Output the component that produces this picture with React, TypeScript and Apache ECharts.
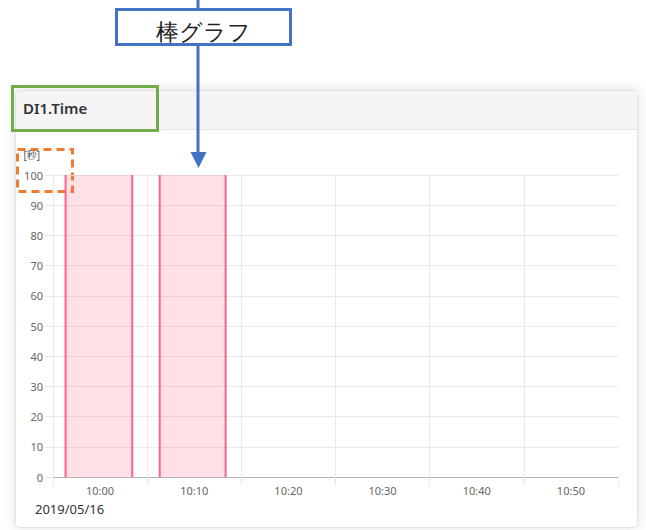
import React, { useEffect, useRef } from "react";
import * as echarts from "echarts";

// ---- data ----
const timeLabels = ["10:00", "10:10", "10:20", "10:30", "10:40", "10:50"];
const rangeStart = "2019-05-16T09:55:00";
const rangeEnd = "2019-05-16T10:55:00";
const barStarts = ["2019-05-16T09:56:20", "2019-05-16T10:06:20"];
const barEnds = ["2019-05-16T10:03:25", "2019-05-16T10:13:20"];
const barValues = [100, 100];
const yMin = 0;
const yMax = 100;
const yStep = 10;
const panelTitle = "DI1.Time";
const dateLabel = "2019/05/16";
const yAxisName = "[秒]";
const calloutText = "棒グラフ";

const ts = (s: string) => new Date(s).getTime();

const FONT = "'Noto Sans', 'Noto Sans CJK JP', sans-serif";
const PINK = "rgb(255,99,132)";
const PINK_FILL = "rgba(255,99,132,0.2)";
const GRID = "#e9e9e9";
const LABEL = "#666666";
const BLUE = "#4472C4";
const GREEN = "#70AD47";
const ORANGE = "#ED7D31";

export default function App() {
  const ref = useRef<HTMLDivElement>(null);

  useEffect(() => {
    if (!ref.current) return;
    const chart = echarts.init(ref.current, null, { renderer: "svg" });

    const barData = barStarts.map((s, i) => [ts(s), ts(barEnds[i]), barValues[i]]);

    const option: any = {
      animation: false,
      backgroundColor: "#ffffff",
      textStyle: { fontFamily: FONT },
      grid: { left: 53, top: 175, width: 565, height: 302, containLabel: false },
      xAxis: [
        {
          type: "category",
          data: timeLabels,
          boundaryGap: true,
          axisLine: { show: true, lineStyle: { color: "#b3b3b3", width: 1 } },
          axisTick: { show: true, length: 8, lineStyle: { color: GRID } },
          axisLabel: { color: LABEL, fontSize: 11, margin: 8, fontFamily: FONT },
          splitLine: { show: true, showMaxLine: false, lineStyle: { color: GRID } },
        },
        {
          type: "time",
          min: ts(rangeStart),
          max: ts(rangeEnd),
          show: false,
          position: "bottom",
          splitLine: { show: false },
        },
      ],
      yAxis: {
        type: "value",
        min: yMin,
        max: yMax,
        interval: yStep,
        name: yAxisName,
        nameLocation: "end",
        nameGap: 20,
        nameTextStyle: {
          color: "#555555",
          fontSize: 10,
          align: "right",
          verticalAlign: "middle",
          padding: [0, 13, 0, 0],
          fontFamily: FONT,
        },
        axisLine: { show: false },
        axisTick: { show: true, length: 8, lineStyle: { color: GRID } },
        axisLabel: { color: LABEL, fontSize: 11, margin: 10, fontFamily: FONT },
        splitLine: { show: true, lineStyle: { color: GRID } },
      },
      series: [
        {
          type: "custom",
          xAxisIndex: 1,
          yAxisIndex: 0,
          data: barData,
          encode: { x: [0, 1], y: 2 },
          renderItem: (params: any, api: any) => {
            const top = api.coord([api.value(0), api.value(2)]);
            const bot = api.coord([api.value(1), 0]);
            const x0 = top[0];
            const x1 = bot[0];
            const y0 = top[1];
            const y1 = bot[1];
            return {
              type: "group",
              children: [
                {
                  type: "rect",
                  shape: { x: x0, y: y0, width: x1 - x0, height: y1 - y0 },
                  style: { fill: PINK_FILL },
                },
                {
                  type: "line",
                  shape: { x1: x0, y1: y0, x2: x0, y2: y1 },
                  style: { stroke: PINK, lineWidth: 2 },
                },
                {
                  type: "line",
                  shape: { x1: x1, y1: y0, x2: x1, y2: y1 },
                  style: { stroke: PINK, lineWidth: 2 },
                },
              ],
            };
          },
        },
      ],
      graphic: [
        // card
        {
          type: "group",
          z: -10,
          silent: true,
          children: [
            {
              type: "rect",
              shape: { x: 15.5, y: 90.5, width: 622, height: 437, r: 4 },
              style: {
                fill: "#ffffff",
                stroke: "#e2e2e2",
                lineWidth: 1,
                shadowBlur: 12,
                shadowColor: "rgba(0,0,0,0.12)",
              },
            },
            {
              type: "rect",
              shape: { x: 16, y: 91, width: 621, height: 38, r: [4, 4, 0, 0] },
              style: { fill: "#f5f5f5" },
            },
            {
              type: "line",
              shape: { x1: 16, y1: 129.5, x2: 637, y2: 129.5 },
              style: { stroke: "#e4e4e4", lineWidth: 1 },
            },
            {
              type: "text",
              x: 23,
              y: 108,
              style: {
                text: panelTitle,
                fontSize: 15,
                fontWeight: 600,
                fill: "#333333",
                fontFamily: FONT,
                verticalAlign: "middle",
                align: "left",
              },
            },
            {
              type: "text",
              x: 35,
              y: 509,
              style: {
                text: dateLabel,
                fontSize: 13,
                fill: "#333333",
                fontFamily: FONT,
                verticalAlign: "middle",
                align: "left",
              },
            },
          ],
        },
        // annotations
        {
          type: "group",
          z: 100,
          silent: true,
          children: [
            {
              type: "line",
              shape: { x1: 198, y1: 0, x2: 198, y2: 9 },
              style: { stroke: BLUE, lineWidth: 3 },
            },
            {
              type: "rect",
              shape: { x: 116.5, y: 9.5, width: 174, height: 35 },
              style: { fill: "#ffffff", stroke: BLUE, lineWidth: 3 },
            },
            {
              type: "text",
              x: 203,
              y: 32,
              style: {
                text: calloutText,
                fontSize: 23,
                fill: "#222222",
                fontFamily: "serif",
                align: "center",
                verticalAlign: "middle",
              },
            },
            {
              type: "line",
              shape: { x1: 198, y1: 45, x2: 198, y2: 154 },
              style: { stroke: BLUE, lineWidth: 3 },
            },
            {
              type: "polygon",
              shape: { points: [[190.5, 152], [206.5, 152], [198.5, 168]] },
              style: { fill: BLUE },
            },
            {
              type: "rect",
              shape: { x: 12.5, y: 86.5, width: 145, height: 44 },
              style: { fill: "none", stroke: GREEN, lineWidth: 3 },
            },
            {
              type: "rect",
              shape: { x: 17.5, y: 149.5, width: 55, height: 42 },
              style: { fill: "none", stroke: ORANGE, lineWidth: 3, lineDash: [8, 5] },
            },
          ],
        },
      ],
    };

    chart.setOption(option);
    return () => chart.dispose();
  }, []);

  return (
    <div
      ref={ref}
      style={{ position: "absolute", left: 0, top: 0, width: 646, height: 530 }}
    />
  );
}
